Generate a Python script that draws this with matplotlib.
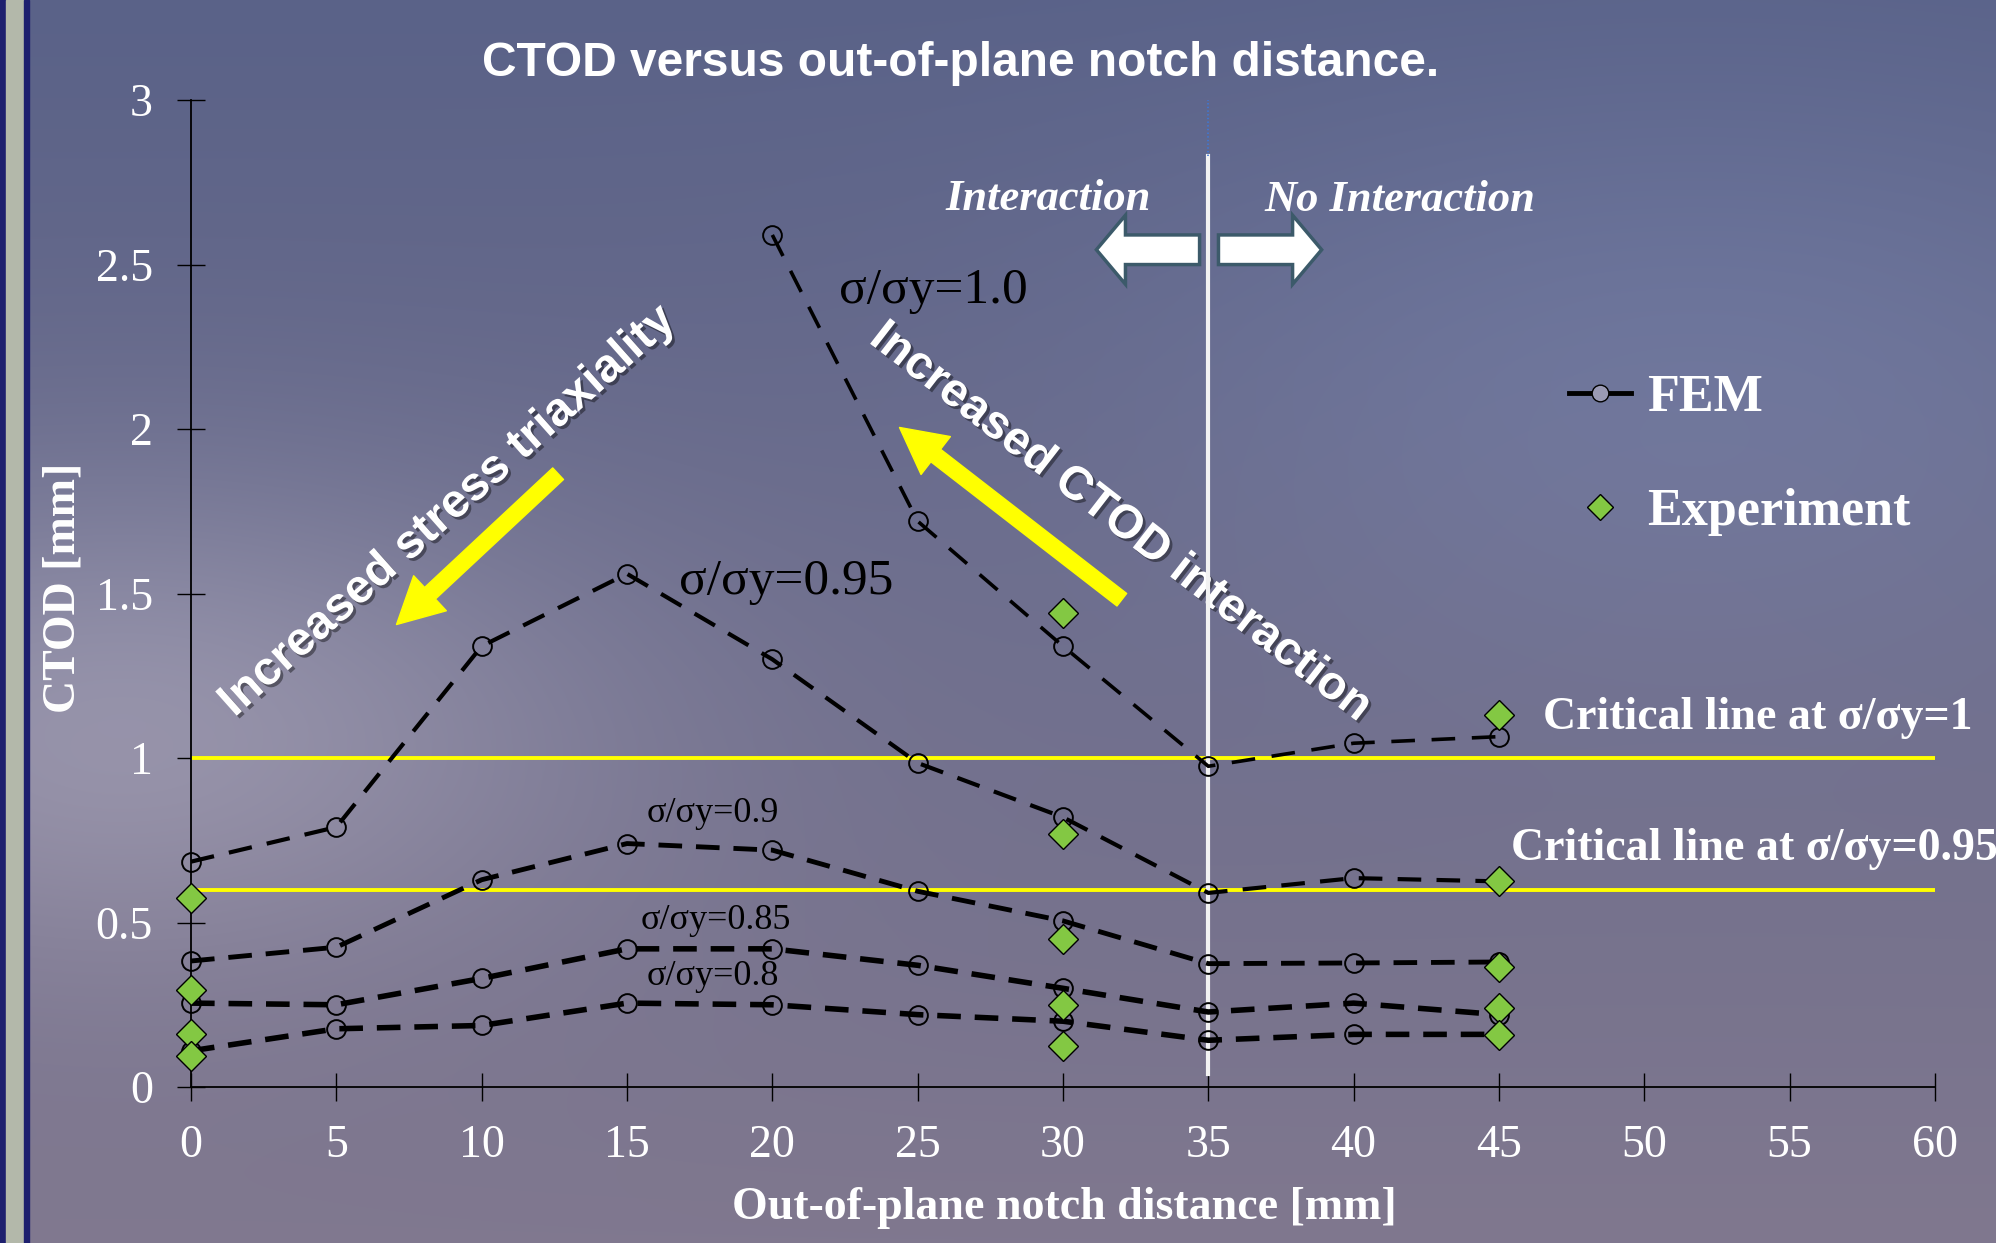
import numpy as np
import matplotlib.pyplot as plt
import matplotlib.patheffects as pe
from matplotlib.lines import Line2D
from matplotlib.patches import FancyArrow, Rectangle

# FEM results, CTOD [mm] vs out-of-plane notch distance [mm]
notch_dist = [0, 5, 10, 15, 20, 25, 30, 35, 40, 45]
s100_dist = [20, 25, 30, 35, 40, 45]
ctod_s100 = [2.59, 1.72, 1.34, 0.975, 1.045, 1.065]
ctod_s095 = [0.685, 0.79, 1.34, 1.56, 1.30, 0.985, 0.82, 0.59, 0.635, 0.625]
ctod_s090 = [0.383, 0.425, 0.63, 0.74, 0.72, 0.595, 0.505, 0.375, 0.377, 0.38]
ctod_s085 = [0.255, 0.25, 0.33, 0.42, 0.42, 0.37, 0.30, 0.228, 0.255, 0.22]
ctod_s080 = [0.11, 0.177, 0.187, 0.255, 0.25, 0.22, 0.20, 0.142, 0.16, 0.16]

# experiments
exp_dist = [0, 0, 0, 0, 30, 30, 30, 30, 30, 45, 45, 45, 45, 45]
exp_ctod = [0.573, 0.295, 0.16, 0.095, 1.44, 0.77, 0.45, 0.25, 0.125,
            1.13, 0.625, 0.365, 0.24, 0.157]

curve_labels = ["σ/σy=1.0", "σ/σy=0.95", "σ/σy=0.9", "σ/σy=0.85", "σ/σy=0.8"]
critical_levels = [1.0, 0.6]
critical_labels = ["Critical line at σ/σy=1", "Critical line at σ/σy=0.95"]
boundary_x = 35

x_ticks = list(range(0, 61, 5))
y_ticks = [0, 0.5, 1, 1.5, 2, 2.5, 3]
y_ticklabels = ["0", "0.5", "1", "1.5", "2", "2.5", "3"]

plt.rcParams['font.family'] = 'Liberation Serif'
plt.rcParams['lines.scale_dashes'] = False

fig = plt.figure(figsize=(19.96, 12.43), dpi=100)

# slide background
yy, xx = np.mgrid[0:1:250j, 0:1:400j]
top = np.array([90, 98, 136])
bottom = np.array([128, 120, 143])
img = top + (bottom - top) * yy[..., None]
img = img + np.exp(-((xx - 0.06) ** 2 / 0.06 + (yy - 0.58) ** 2 / 0.04))[..., None] * np.array([38, 36, 30])
img = img + np.exp(-((xx - 0.85) ** 2 / 0.08 + (yy - 0.3) ** 2 / 0.06))[..., None] * np.array([10, 14, 18])
img = np.clip(img / 255, 0, 1)
bg = fig.add_axes([0, 0, 1, 1])
bg.imshow(img, aspect='auto', extent=[0, 1, 0, 1], interpolation='bicubic')
bg.axis('off')
fig.patches.append(Rectangle((0, 0), 6 / 1996, 1, transform=fig.transFigure, color='#1d1f6e'))
fig.patches.append(Rectangle((6 / 1996, 0), 18 / 1996, 1, transform=fig.transFigure, color='#b3b8aa'))
fig.patches.append(Rectangle((24 / 1996, 0), 5 / 1996, 1, transform=fig.transFigure, color='#1d1f6e'))

ax = fig.add_axes([0.0957, 0.1255, 0.8737, 0.794])
ax.set_facecolor('none')
ax.set_xlim(0, 60)
ax.set_ylim(0, 3)
for s in ['top', 'right']:
    ax.spines[s].set_visible(False)
for s in ['left', 'bottom']:
    ax.spines[s].set_linewidth(1.3)
ax.set_xticks(x_ticks)
ax.set_yticks(y_ticks)
ax.set_yticklabels(y_ticklabels)
ax.tick_params(direction='inout', length=20, width=1, color='black',
               labelcolor='white', labelsize=33)
ax.tick_params(axis='x', pad=17)
ax.tick_params(axis='y', pad=17.5)

# critical lines
for lvl in critical_levels:
    ax.axhline(lvl, color='#ffff00', lw=2.8, zorder=2)

# interaction boundary
ax.plot([boundary_x, boundary_x], [0.04, 2.83], color='#f2f2f2', lw=3, zorder=4)
ax.plot([boundary_x, boundary_x], [2.83, 3.0], color='#3d78d8', lw=1.2, ls=':', zorder=4)

# FEM curves
fem = [(s100_dist, ctod_s100, 2.6, (17, 12)), (notch_dist, ctod_s095, 3.0, (17, 11)),
       (notch_dist, ctod_s090, 3.5, (17, 10)), (notch_dist, ctod_s085, 4.0, (17, 10)),
       (notch_dist, ctod_s080, 4.0, (17, 10))]
for xs, ys, lw, dash in fem:
    ax.plot(xs, ys, color='black', lw=lw, ls=(0, dash), marker='o',
            ms=13.5, mfc='none', mec='black', mew=1.4, zorder=5, clip_on=False)

ax.plot(exp_dist, exp_ctod, ls='none', marker='D', ms=15, mfc='#83c843',
        mec='black', mew=1, zorder=6, clip_on=False)

# curve labels
label_pos = [(22.3, 2.42, 37, 'left'), (16.8, 1.535, 37, 'left'),
             (17.95, 0.83, 26, 'center'), (18.05, 0.505, 26, 'center'),
             (17.95, 0.335, 26, 'center')]
for txt, (lx, ly, fs, ha) in zip(curve_labels, label_pos):
    ax.text(lx, ly, txt, fontsize=fs, ha=ha, va='center', color='black')

for lvl, txt, lx in zip(critical_levels, critical_labels, [46.5, 45.4]):
    ax.text(lx, lvl + 0.123, txt, fontsize=33, fontweight='bold',
            color='white', ha='left', va='center', clip_on=False)

ax.text(29.5, 2.70, "Interaction", fontsize=32, fontweight='bold',
        style='italic', color='white', ha='center', va='center')
ax.text(41.6, 2.695, "No Interaction", fontsize=32, fontweight='bold',
        style='italic', color='white', ha='center', va='center')

# white block arrows
for x0, dx in [(34.7, -3.55), (35.35, 3.55)]:
    ax.add_patch(FancyArrow(x0, 2.545, dx, 0, width=0.09, head_width=0.21,
                            head_length=1.0, length_includes_head=True,
                            fc='white', ec='#3c5a6a', lw=2.5, zorder=3))

# yellow arrows and rotated notes
yellow = dict(arrowstyle='simple,head_length=1.1,head_width=1.15,tail_width=0.38',
              color='#ffff00', mutation_scale=30)
ax.annotate('', xy=(7.0, 1.40), xytext=(12.7, 1.87), arrowprops=yellow)
ax.annotate('', xy=(24.3, 2.01), xytext=(32.1, 1.476), arrowprops=yellow)

shadow = [pe.withSimplePatchShadow(offset=(2, -2), shadow_rgbFace='black', alpha=0.4)]
ax.text(8.85, 1.75, "Increased stress triaxiality", family='Liberation Sans',
        fontsize=34, fontweight='bold', color='white', rotation=41.7,
        rotation_mode='anchor', ha='center', va='center', path_effects=shadow)
ax.text(31.98, 1.715, "Increased CTOD interaction", family='Liberation Sans',
        fontsize=34, fontweight='bold', color='white', rotation=-37.8,
        rotation_mode='anchor', ha='center', va='center', path_effects=shadow)

handles = [Line2D([], [], color='black', lw=3.5, marker='o', ms=12, mfc='#9a9ab4', mec='black'),
           Line2D([], [], ls='none', marker='D', ms=13, mfc='#83c843', mec='black')]
ax.legend(handles, ['FEM', 'Experiment'], loc='upper left', bbox_to_anchor=(0.79, 0.722),
          frameon=False, prop=dict(family='Liberation Serif', weight='bold', size=37.5),
          labelcolor='white', handlelength=1.2, handletextpad=0.3,
          labelspacing=1.26, borderpad=0, borderaxespad=0)

fig.text(0.481, 0.949, "CTOD versus out-of-plane notch distance.", family='Liberation Sans',
         fontweight='bold', fontsize=34.5, color='white', ha='center', va='center')
fig.text(1064 / 1996, 1 - 1208 / 1243, "Out-of-plane notch distance [mm]", fontsize=33,
         fontweight='bold', color='white', ha='center', va='center')
fig.text(64 / 1996, 1 - 588 / 1243, "CTOD [mm]", fontsize=33, rotation=90,
         fontweight='bold', color='white', ha='center', va='center')

fig.savefig('out.png', dpi=100)
